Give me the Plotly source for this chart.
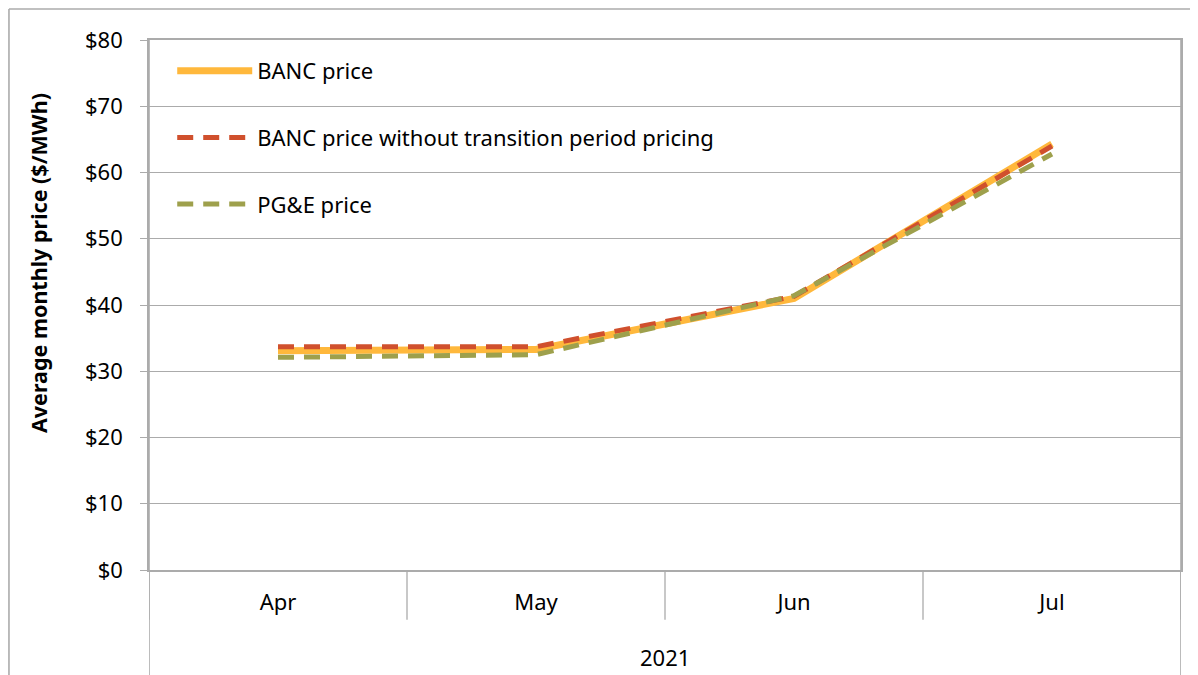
import plotly.graph_objects as go

months = ["Apr", "May", "Jun", "Jul"]
year_label = "2021"
banc_price = [33.1, 33.3, 41.0, 64.3]
banc_no_transition = [33.7, 33.7, 41.3, 64.0]
pge_price = [32.1, 32.5, 41.4, 62.8]
y_ticks = [0, 10, 20, 30, 40, 50, 60, 70, 80]
y_tick_labels = ["$" + str(v) for v in y_ticks]
y_title = "Average monthly price ($/MWh)"

FONT = "Noto Sans"
GRID = "#ababab"
FS = 22

fig = go.Figure()
fig.add_trace(go.Scatter(x=months, y=banc_price, mode="lines", name="BANC price",
                         line=dict(color="#FFB83C", width=7), legendgroup="a"))
fig.add_trace(go.Scatter(x=months, y=banc_no_transition, mode="lines",
                         name="BANC price without transition period pricing",
                         line=dict(color="#D0502D", width=5, dash="16px,10px"), legendgroup="b"))
fig.add_trace(go.Scatter(x=months, y=pge_price, mode="lines", name="PG&E price",
                         line=dict(color="#9EA04C", width=5, dash="16px,10px"), legendgroup="c"))

shapes = []
n = len(months)
# category dividers below the x axis
for i in range(n + 1):
    shapes.append(dict(type="line", xref="x", yref="paper", x0=i - 0.5, x1=i - 0.5,
                       y0=0, y1=-0.094, line=dict(color=GRID, width=1.3)))
# left and right edges extended to bottom
for xv in (-0.5, n - 0.5):
    shapes.append(dict(type="line", xref="x", yref="paper", x0=xv, x1=xv,
                       y0=1, y1=-0.2, line=dict(color=GRID, width=1.6)))
# outer chart border (top and left)
shapes.append(dict(type="line", xref="paper", yref="paper", x0=-0.1357, x1=1.03,
                   y0=1.0585, y1=1.0585, line=dict(color=GRID, width=1.6)))
shapes.append(dict(type="line", xref="paper", yref="paper", x0=-0.1357, x1=-0.1357,
                   y0=1.0585, y1=-0.2, line=dict(color=GRID, width=1.6)))

fig.update_layout(
    width=1190, height=667,
    margin=dict(l=141, r=17, t=32, b=105),
    paper_bgcolor="white", plot_bgcolor="white",
    font=dict(family=FONT, size=FS, color="black"),
    showlegend=True,
    legend=dict(x=0.0225, y=0.981, xanchor="left", yanchor="top",
                bgcolor="rgba(0,0,0,0)", font=dict(size=FS, family=FONT),
                tracegroupgap=35, itemwidth=75),
    shapes=shapes,
    annotations=[
        dict(text=year_label, xref="paper", yref="paper", x=0.5, y=-0.165,
             showarrow=False, xanchor="center", yanchor="middle",
             font=dict(size=FS, family=FONT)),
        dict(text="<b>" + y_title + "</b>", xref="paper", yref="paper",
             x=-0.1076, y=0.579, textangle=-90, showarrow=False,
             xanchor="center", yanchor="middle", font=dict(size=21.5, family=FONT)),
    ],
)
fig.update_xaxes(type="category", range=[-0.5, n - 0.5], showgrid=False,
                 showline=True, linecolor=GRID, linewidth=1.6, mirror=True,
                 ticks="", ticklabelstandoff=12, tickfont=dict(size=FS, family=FONT))
fig.update_yaxes(range=[0, 80], tickvals=y_ticks, ticktext=y_tick_labels,
                 showgrid=True, gridcolor=GRID, gridwidth=1.3,
                 showline=True, linecolor=GRID, linewidth=1.6, mirror=True,
                 ticks="outside", ticklen=7, tickcolor=GRID, tickwidth=1.3,
                 zeroline=False, ticklabelstandoff=13, tickfont=dict(size=FS, family=FONT))

fig.write_html("out.html")
